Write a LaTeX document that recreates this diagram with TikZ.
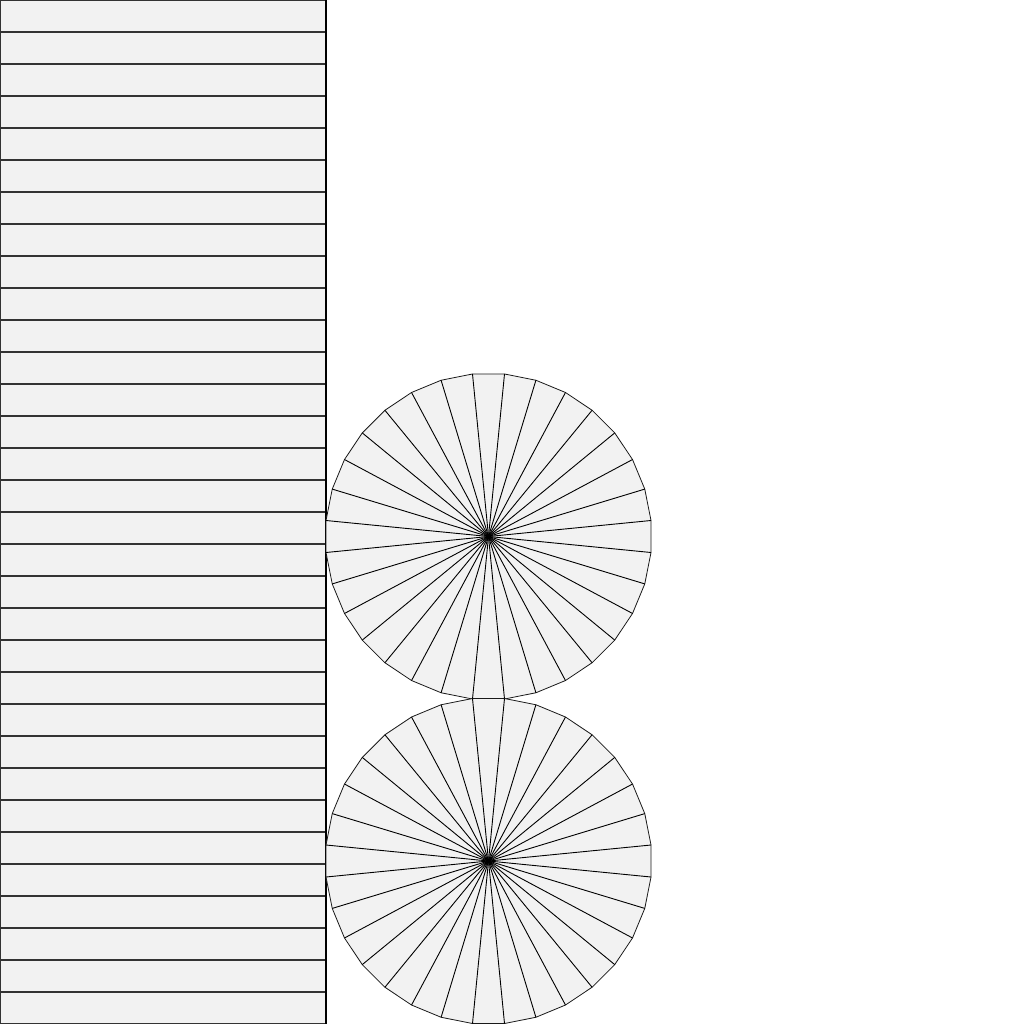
\documentclass[tikz,border=0pt]{standalone}
\usetikzlibrary{calc}
\begin{document}
\begin{tikzpicture}[x=1pt,y=-1pt,
  slat/.style={draw=black!80,line width=1.2pt,fill=black!5},
  fan/.style={draw=black!90,line width=0.8pt,fill=black!5,line join=miter},
  spoke/.style={draw=black,line width=0.9pt}]
\useasboundingbox (0,0) rectangle (1024,1024);
\foreach \i in {0,...,31}{
  \draw[slat] (0,{32*\i}) rectangle (326,{32*\i+32});
}
\draw[black,line width=1.2pt] (326,0) -- (326,1024);
\foreach \cy in {536.5,861}{
  \coordinate (c) at (488.5,\cy);
  \draw[fan] ($(c)+(5.625:163.3)$) \foreach \k in {1,...,31}{ -- ($(c)+({5.625+11.25*\k}:163.3)$)} -- cycle;
  \foreach \k in {0,...,31}{
    \draw[spoke] (c) -- ($(c)+({5.625+11.25*\k}:163.3)$);
  }
}
\end{tikzpicture}
\end{document}
